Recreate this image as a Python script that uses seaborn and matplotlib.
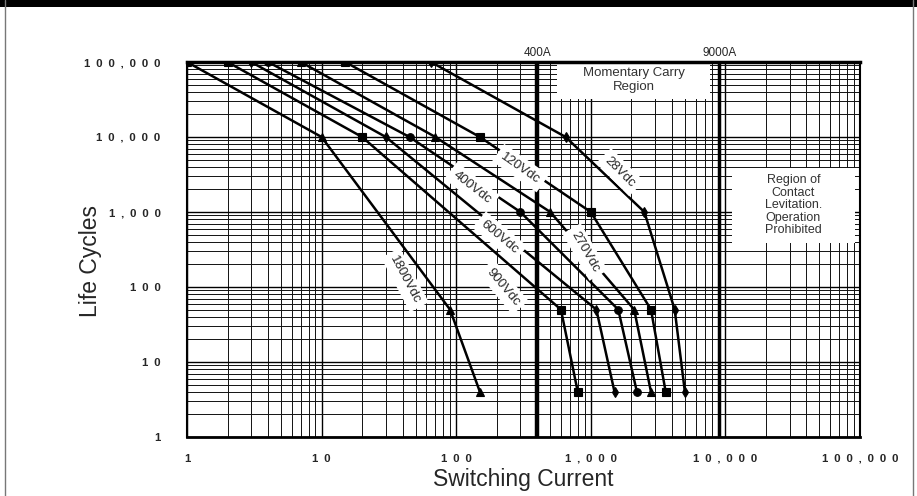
import matplotlib
matplotlib.use("Agg")
import pandas as pd
import matplotlib.pyplot as plt
import seaborn as sns
from matplotlib.ticker import LogLocator, FuncFormatter, NullFormatter
from matplotlib.patches import Rectangle
from matplotlib.lines import Line2D

# Life cycle curves: switching current (A) vs life (cycles)
voltages = ["28Vdc", "120Vdc", "270Vdc", "400Vdc", "600Vdc", "900Vdc", "1800Vdc"]
current_28 = [65, 650, 2500, 4200, 5000]
current_120 = [15, 150, 1000, 2800, 3600]
current_270 = [7, 70, 500, 2100, 2800]
current_400 = [4, 45, 300, 1600, 2200]
current_600 = [3, 30, 1100, 1500]
current_900 = [2, 20, 600, 800]
current_1800 = [1, 10, 90, 150]
cycles_long = [100000, 10000, 1000, 50, 4]
cycles_short = [100000, 10000, 50, 4]

currents = [current_28, current_120, current_270, current_400,
            current_600, current_900, current_1800]
cycles = [cycles_long, cycles_long, cycles_long, cycles_long,
          cycles_short, cycles_short, cycles_short]

markers = {"28Vdc": "d", "120Vdc": "s", "270Vdc": "^", "400Vdc": "o",
           "600Vdc": "d", "900Vdc": "s", "1800Vdc": "^"}

rows = []
for v, cur, cyc in zip(voltages, currents, cycles):
    for a, n in zip(cur, cyc):
        rows.append({"Voltage": v, "Current": a, "Cycles": n})
df = pd.DataFrame(rows)

sns.set_style("white")
plt.rcParams["font.family"] = ["Liberation Sans", "DejaVu Sans"]

fig = plt.figure(figsize=(9.17, 4.96), dpi=100)
ax = fig.add_axes([187 / 917, 1 - 437 / 496, 673 / 917, 375 / 496])

sns.lineplot(data=df, x="Current", y="Cycles", style="Voltage", units="Voltage",
             estimator=None, markers=markers, dashes=False, color="black",
             linewidth=1.8, markersize=5.5, markeredgecolor="black",
             markeredgewidth=0.8, legend=False, ax=ax, zorder=3)

ax.set_xscale("log")
ax.set_yscale("log")
ax.set_xlim(1, 100000)
ax.set_ylim(1, 100000)

ax.xaxis.set_major_locator(LogLocator(base=10))
ax.yaxis.set_major_locator(LogLocator(base=10))
ax.xaxis.set_minor_locator(LogLocator(base=10, subs=range(2, 10)))
ax.yaxis.set_minor_locator(LogLocator(base=10, subs=range(2, 10)))
ax.xaxis.set_minor_formatter(NullFormatter())
ax.yaxis.set_minor_formatter(NullFormatter())


def spaced(v, pos):
    return "\u2002".join(f"{int(round(v)):,}")


ax.xaxis.set_major_formatter(FuncFormatter(spaced))
ax.yaxis.set_major_formatter(FuncFormatter(spaced))

ax.grid(which="major", color="black", linewidth=1.0, zorder=0)
ax.grid(which="minor", color="#111111", linewidth=0.7, zorder=0)
ax.set_axisbelow(True)

ax.tick_params(which="major", length=5, width=1, color="black", direction="out",
               labelsize=8.2)
ax.tick_params(axis="y", pad=14)
ax.tick_params(axis="x", pad=7)
ax.tick_params(which="minor", length=0)
for lab in ax.get_xticklabels() + ax.get_yticklabels():
    lab.set_fontweight("bold")

for s in ax.spines.values():
    s.set_color("black")
    s.set_linewidth(1.5)
ax.spines["top"].set_linewidth(2.5)
ax.spines["bottom"].set_linewidth(2)

ax.set_xlabel("Switching Current", fontsize=16.5, labelpad=3)
ax.set_ylabel("Life Cycles", fontsize=16.5, va="center")
ax.yaxis.set_label_coords(-0.144, 0.47)

# current limits
ax.axvline(400, color="black", linewidth=3.2, zorder=2.5)
ax.axvline(9000, color="black", linewidth=2.5, zorder=2.5)
xt = ax.get_xaxis_transform()
ax.text(400, 1.008, "400A", transform=xt, ha="center", va="bottom", fontsize=8.5)
ax.text(9000, 1.008, "9000A", transform=xt, ha="center", va="bottom", fontsize=8.5)

# region boxes
ax.add_patch(Rectangle((561, 32100), 7690 - 561, 100000 - 32100,
                       facecolor="white", edgecolor="none", zorder=2))
ax.text(2100, 57000, "Momentary Carry\nRegion", ha="center", va="center",
        fontsize=9.5, linespacing=1.2, color="#333333", zorder=4)
ax.add_patch(Rectangle((11200, 386), 91800 - 11200, 3860 - 386,
                       facecolor="white", edgecolor="none", zorder=2))
ax.text(32000, 1230, "Region of\nContact\nLevitation.\nOperation\nProhibited",
        ha="center", va="center", fontsize=9, linespacing=1.05,
        color="#333333", zorder=4)

# curve labels
labels = [("28Vdc", 1650, 3400, -45), ("120Vdc", 300, 3850, -35),
          ("400Vdc", 131, 2150, -38), ("600Vdc", 211, 465, -40),
          ("270Vdc", 906, 293, -60), ("900Vdc", 223, 100, -50),
          ("1800Vdc", 41.6, 124, -62)]
for txt, x, y, rot in labels:
    ax.text(x, y, txt, rotation=rot, rotation_mode="anchor", ha="center",
            va="center", fontsize=9.5, zorder=5,
            bbox=dict(boxstyle="square,pad=0.35", facecolor="white",
                      edgecolor="none"))

# page frame and header bar
fig.add_artist(Rectangle((0, 1 - 7 / 496), 1, 7 / 496, transform=fig.transFigure,
                         facecolor="black", edgecolor="none"))
fig.add_artist(Line2D([4.5 / 917, 4.5 / 917], [0, 1], transform=fig.transFigure,
                      color="#777777", linewidth=1))
fig.add_artist(Line2D([912.5 / 917, 912.5 / 917], [0, 1], transform=fig.transFigure,
                      color="#777777", linewidth=1))

fig.savefig("out.png", dpi=100)
